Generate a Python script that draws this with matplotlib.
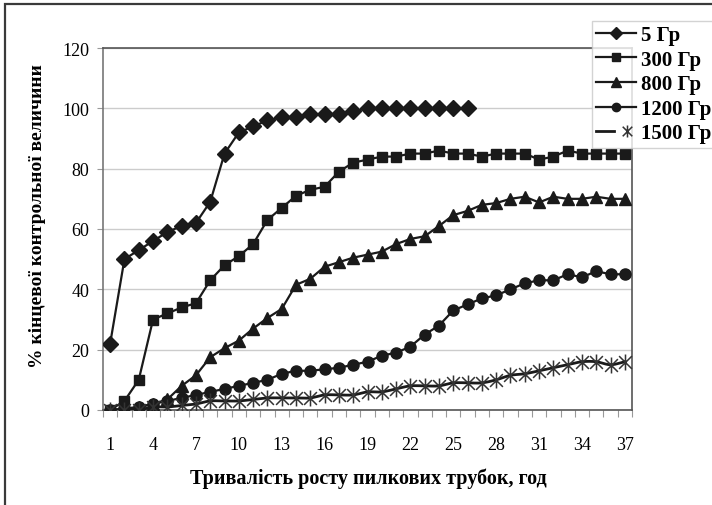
import numpy as np
import matplotlib
matplotlib.use("Agg")
import matplotlib.pyplot as plt
from matplotlib.path import Path
from matplotlib.patches import Rectangle
from matplotlib.legend_handler import HandlerTuple

plt.rcParams['font.family'] = ['Liberation Serif', 'DejaVu Serif']

hours = list(range(1, 38))
tick_labels = [str(h) for h in range(1, 38, 3)]

s5 = [22, 50, 53, 56, 59, 61, 62, 69, 85, 92, 94, 96, 97, 97, 98, 98, 98, 99,
      100, 100, 100, 100, 100, 100, 100, 100]
s300 = [0, 3, 10, 30, 32, 34, 35.4, 43, 48, 51, 55, 63, 67, 71, 73, 74, 79, 82,
        83, 84, 84, 85, 85, 86, 85, 85, 84, 85, 85, 85, 83, 84, 86, 85, 85, 85, 85]
s800 = [0, 0, 1, 2, 3.5, 8, 11.5, 17.5, 20.5, 23, 27, 30.5, 33.5, 41.5, 43.5,
        47.5, 49, 50.5, 51.5, 52.5, 55, 56.7, 57.6, 61, 64.6, 66, 68, 68.6, 70,
        70.7, 68.8, 70.7, 70, 70, 70.7, 70, 70]
s1200 = [0, 0.5, 1, 2, 3, 4, 5, 6, 7, 8, 9, 10, 12, 13, 13, 13.5, 14, 15, 16,
         18, 19, 21, 25, 28, 33, 35, 37, 38, 40, 42, 43, 43, 45, 44, 46, 45, 45]
s1500 = [0, 0, 0, 1, 1, 1.5, 2, 3, 3, 3, 3.5, 4, 4, 4, 4, 5, 5, 5, 6, 6, 7, 8,
         8, 8, 9, 9, 9, 10, 11.5, 12, 13, 14, 15, 16, 16, 15, 16]
labels = ['5 Гр', '300 Гр', '800 Гр', '1200 Гр', '1500 Гр']

W, H = 712, 506
fig = plt.figure(figsize=(W / 100, H / 100), dpi=100)
ax = fig.add_axes([103 / W, 1 - 411 / H, (632 - 103) / W, (411 - 49) / H])

col = '#1a1a1a'
lw = 1.6

def catmull(xs, ys, n=12):
    xs = np.asarray(xs, float); ys = np.asarray(ys, float)
    px = np.concatenate([[2 * xs[0] - xs[1]], xs, [2 * xs[-1] - xs[-2]]])
    py = np.concatenate([[2 * ys[0] - ys[1]], ys, [2 * ys[-1] - ys[-2]]])
    ox, oy = [], []
    for i in range(1, len(px) - 2):
        t = np.linspace(0, 1, n, endpoint=False)
        for arr, out in ((px, ox), (py, oy)):
            p0, p1, p2, p3 = arr[i - 1], arr[i], arr[i + 1], arr[i + 2]
            out.extend(0.5 * ((2 * p1) + (-p0 + p2) * t + (2 * p0 - 5 * p1 + 4 * p2 - p3) * t ** 2
                              + (-p0 + 3 * p1 - 3 * p2 + p3) * t ** 3))
    ox.append(xs[-1]); oy.append(ys[-1])
    return ox, oy

star = Path([(-0.8, -0.8), (0.8, 0.8), (-0.8, 0.8), (0.8, -0.8), (0, -1), (0, 1)],
            [Path.MOVETO, Path.LINETO] * 3)

h1, = ax.plot(hours[:len(s5)], s5, color=col, lw=lw, marker='D', ms=8.5, mfc=col, mec=col, zorder=5)
h2, = ax.plot(hours, s300, color=col, lw=lw, marker='s', ms=7.5, mfc=col, mec=col, zorder=5)
h3, = ax.plot(hours, s800, color=col, lw=lw, marker='^', ms=9, mfc=col, mec=col, zorder=5)
h4, = ax.plot(hours, s1200, color=col, lw=lw, marker='o', ms=8, mfc=col, mec=col, zorder=5)
sx, sy = catmull(hours, s1500)
h5a, = ax.plot(sx, sy, color=col, lw=lw + 0.4, zorder=4)
h5b, = ax.plot(hours, s1500, ls='none', marker=star, ms=11.5, mec='#333333', mew=1.1, zorder=5)

ax.set_xlim(0.5, 37.5)
ax.set_ylim(0, 120)
ax.set_yticks(range(0, 121, 20))
ax.set_xticks(range(1, 38, 3))
ax.set_xticklabels(tick_labels)
ax.set_xticks(np.arange(0.5, 38, 1), minor=True)
ax.tick_params(axis='x', which='major', length=0, pad=19, labelsize=13)
ax.tick_params(axis='x', which='minor', length=5, width=0.8, color='#999999', direction='out')
ax.tick_params(axis='y', which='major', length=4, width=0.8, color='#999999', pad=6, labelsize=13)
ax.grid(axis='y', color='#cccccc', lw=1.0)
ax.set_axisbelow(True)
for sp in ax.spines.values():
    sp.set_color('#555555')
    sp.set_linewidth(1.2)
ax.spines['left'].set_color('#777777')

fig.text(368 / W, 1 - 479 / H, 'Тривалість росту пилкових трубок, год',
         ha='center', va='center', fontsize=14.5, fontweight='bold')
fig.text(38 / W, 1 - 216 / H, '% кінцевої контрольної величини',
         ha='center', va='center', rotation=90, fontsize=14, fontweight='bold')

leg = fig.legend([h1, h2, h3, h4, (h5a, h5b)], labels,
                 handler_map={tuple: HandlerTuple(ndivide=None)},
                 loc='upper left', bbox_to_anchor=(592 / W, 1 - 22 / H),
                 prop={'weight': 'bold', 'size': 15}, frameon=True, fancybox=False,
                 edgecolor='#c8c8c8', markerscale=0.75, handlelength=1.9,
                 handletextpad=0.25, labelspacing=0.22, borderpad=0.2, borderaxespad=0)
leg.get_frame().set_linewidth(1.0)

fig.patches.append(Rectangle((5 / W, -0.1), 1.2, 1 - 5 / H + 0.1, transform=fig.transFigure,
                             fill=False, edgecolor='#3a3a3a', lw=1.6))

fig.savefig('out.png', dpi=100)
